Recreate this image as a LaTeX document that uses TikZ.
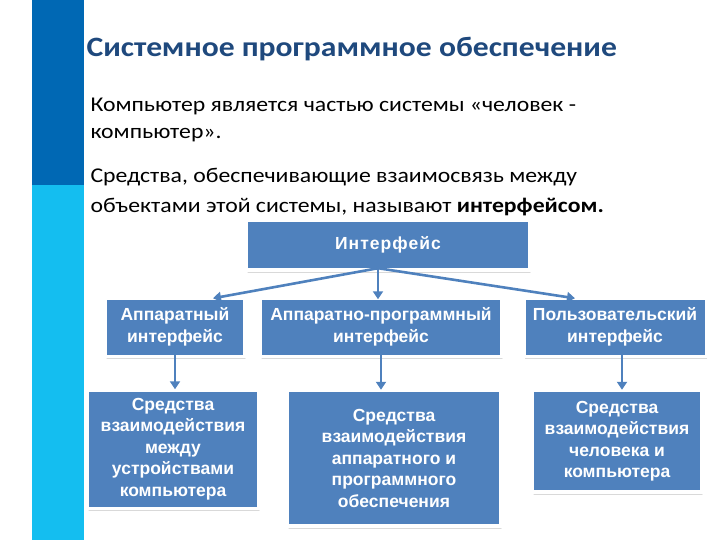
\documentclass[tikz,border=0pt]{standalone}
\usepackage{fontspec}
\setmainfont{Carlito}[FakeStretch=1.13]
\newfontfamily\boxfont{Liberation Sans}
\usepackage{tikz}
\usetikzlibrary{arrows.meta}

\definecolor{barDark}{RGB}{0,104,180}
\definecolor{barLight}{RGB}{20,190,240}
\definecolor{titleBlue}{RGB}{31,73,125}
\definecolor{boxBlue}{RGB}{79,129,189}

\begin{document}
\begin{tikzpicture}[
			x=1pt,
			y=-1pt,
			line cap=round,
			line join=round,
			blockbox/.style={
				fill=boxBlue,
				text=white,
				font=\boxfont\bfseries\fontsize{17.5}{21.5}\selectfont,
				align=center,
				inner sep=0pt
				},
			link/.style={
				draw=boxBlue,
				line width=2.6pt,
				-{Triangle[width=10pt,length=8pt]}
				}
			]
			
			\useasboundingbox (0,0) rectangle (720,540);
			
			% side bar
			\fill[barDark] (32,0) rectangle (84,185);
			\fill[barLight] (32,185) rectangle (84,540);
			
			% texts
			\node[anchor=base west, text=titleBlue,
				font=\bfseries\fontsize{28}{32}\selectfont] (title) at (83,57)
				{Системное программное обеспечение};
			\node[anchor=base west, font=\fontsize{21}{26}\selectfont] (line1) at (87,112)
				{Компьютер является частью системы «человек -};
			\node[anchor=base west, font=\fontsize{21}{26}\selectfont] (line2) at (87,139)
				{компьютер».};
			\node[anchor=base west, font=\fontsize{21}{26}\selectfont] (line3) at (87,183)
				{Средства, обеспечивающие взаимосвязь между};
			\node[anchor=base west, font=\fontsize{21}{26}\selectfont] (line4) at (87,212)
				{объектами этой системы, называют \textbf{интерфейсом.}};
			
			% boxes
			\node[blockbox, minimum width=280, minimum height=46] (iface) at (388,245)
				{\addfontfeature{LetterSpace=6}Интерфейс};
			
			\node[blockbox, minimum width=136, minimum height=55] (hw) at (175,327)
				{Аппаратный\\интерфейс};
			\node[blockbox, minimum width=238, minimum height=55] (hwsw) at (381,327)
				{Аппаратно-программный\\интерфейс};
			\node[blockbox, minimum width=179, minimum height=55] (user) at (615,327)
				{Пользовательский\\интерфейс};
			
			\node[blockbox, minimum width=168, minimum height=115] (hwMeans) at (173,449)
				{Средства\\взаимодействия\\между\\устройствами\\компьютера};
			\node[blockbox, minimum width=210, minimum height=132] (hwswMeans) at (394,458)
				{Средства\\взаимодействия\\аппаратного и\\программного\\обеспечения};
			\node[blockbox, minimum width=166, minimum height=98] (userMeans) at (617,441)
				{Средства\\взаимодействия\\человека и\\компьютера};
			
			% thin lines under the boxes
			\foreach \b in {iface,hw,hwsw,user,hwMeans,hwswMeans,userMeans}{
				\draw[black!15, line width=0.6pt]
					([yshift=-4pt]\b.south west) -- ([yshift=-4pt,xshift=2pt]\b.south east);
			}
			
			% connectors
			\coordinate (fork) at ([xshift=-10pt]iface.south);
			\draw[link] (fork) -- ([xshift=38pt,yshift=1pt]hw.north);
			\draw[link] (fork) -- (fork |- hwsw.north);
			\draw[link] (fork) -- ([xshift=-40pt,yshift=1pt]user.north);
			
			\draw[link] (hw.south) -- ([yshift=2pt]hwMeans.north -| hw.south);
			\draw[link] (hwsw.south) -- ([yshift=2pt]hwswMeans.north -| hwsw.south);
			\draw[link] ([xshift=7pt]user.south) -- ([xshift=7pt,yshift=2pt]userMeans.north -| user.south);
			
		\end{tikzpicture}
\end{document}
